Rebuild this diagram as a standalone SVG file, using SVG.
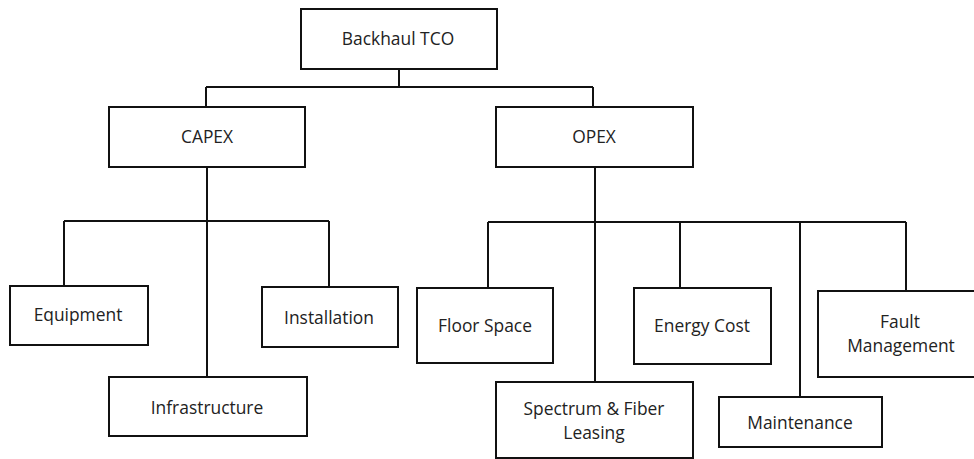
<svg xmlns="http://www.w3.org/2000/svg" width="974" height="459" viewBox="0 0 974 459">
<style>
.box{fill:#fff;stroke:#111;stroke-width:2}
.ln{fill:none;stroke:#111;stroke-width:2}
text{font-family:"Open Sans","Liberation Sans",sans-serif;font-size:17.4px;fill:#222;text-anchor:middle}
</style>
<rect width="974" height="459" fill="#fff"/>
<g id="connectors">
<path class="ln" d="M399 69V87M206 87H593M206 87V107M593 87V107"/>
<path class="ln" d="M207 167V377M64 221H329M64 221V286M329 221V287"/>
<path class="ln" d="M595 167V382M488 222H906M488 222V288M680 222V288M800 222V397M906 222V291"/>
</g>
<g id="backhaul"><rect class="box" x="301" y="9" width="196" height="60"/><text x="398" y="45">Backhaul TCO</text></g>
<g id="capex"><rect class="box" x="109" y="107" width="196" height="60"/><text x="207" y="143">CAPEX</text></g>
<g id="opex"><rect class="box" x="496" y="107" width="197" height="60"/><text x="594" y="143">OPEX</text></g>
<g id="equipment"><rect class="box" x="10" y="286" width="138" height="59"/><text x="78" y="321">Equipment</text></g>
<g id="installation"><rect class="box" x="262" y="287" width="136" height="60"/><text x="329" y="324">Installation</text></g>
<g id="infrastructure"><rect class="box" x="109" y="377" width="198" height="59"/><text x="207" y="414">Infrastructure</text></g>
<g id="floorspace"><rect class="box" x="417" y="288" width="136" height="75"/><text x="485" y="332">Floor Space</text></g>
<g id="spectrum"><rect class="box" x="496" y="382" width="197" height="76"/><text x="594" y="415">Spectrum &amp; Fiber</text><text x="594" y="439">Leasing</text></g>
<g id="energy"><rect class="box" x="634" y="288" width="137" height="76"/><text x="702" y="332">Energy Cost</text></g>
<g id="maintenance"><rect class="box" x="719" y="397" width="163" height="50"/><text x="800" y="429">Maintenance</text></g>
<g id="fault"><rect class="box" x="818" y="291" width="160" height="86"/><text x="900" y="328">Fault</text><text x="901" y="352">Management</text></g>
</svg>
